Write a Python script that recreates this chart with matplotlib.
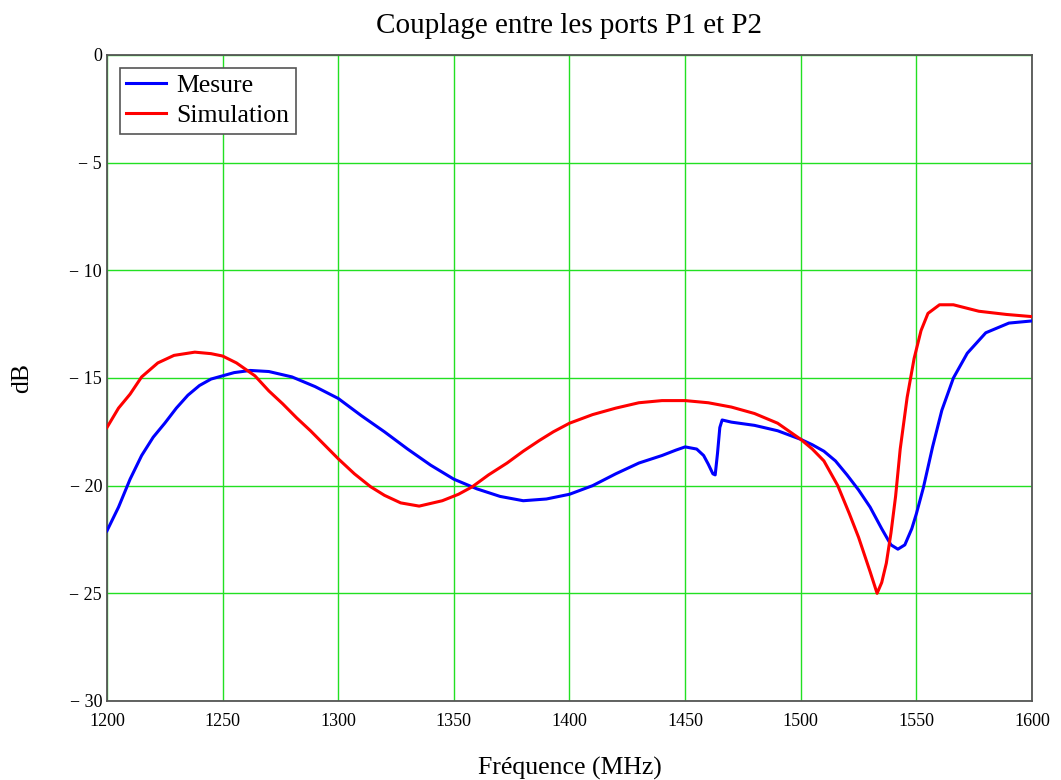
import matplotlib
matplotlib.use('Agg')
import matplotlib.pyplot as plt

plt.rcParams['font.family'] = ['Liberation Serif', 'DejaVu Serif']

# Mesure (blue)
f_mes = [1200, 1205, 1210, 1215, 1220, 1225, 1230, 1235, 1240, 1245, 1250, 1255,
         1262, 1270, 1280, 1290, 1300, 1310, 1320, 1330, 1340, 1350, 1360, 1370,
         1380, 1390, 1400, 1410, 1420, 1430, 1440, 1446, 1450, 1455, 1458, 1460,
         1462, 1463, 1464, 1465, 1466, 1470, 1480, 1490, 1500, 1505, 1510, 1515,
         1520, 1525, 1530, 1535, 1539, 1542, 1545, 1548, 1550, 1553, 1557, 1561,
         1566, 1572, 1580, 1590, 1600]
db_mes = [-22.1, -21.0, -19.7, -18.6, -17.75, -17.1, -16.4, -15.8, -15.35, -15.05,
          -14.9, -14.75, -14.65, -14.7, -14.95, -15.4, -15.95, -16.75, -17.5, -18.3,
          -19.05, -19.7, -20.15, -20.5, -20.7, -20.62, -20.4, -20.0, -19.45, -18.95,
          -18.6, -18.35, -18.2, -18.3, -18.6, -19.0, -19.45, -19.5, -18.5, -17.3,
          -16.95, -17.05, -17.2, -17.45, -17.85, -18.1, -18.4, -18.85, -19.5, -20.2,
          -21.0, -22.0, -22.75, -22.95, -22.75, -22.0, -21.3, -20.1, -18.2, -16.5,
          -15.0, -13.85, -12.9, -12.45, -12.35]

# Simulation (red)
f_sim = [1200, 1205, 1210, 1215, 1222, 1229, 1238, 1245, 1250, 1256, 1264, 1270,
         1276, 1282, 1288, 1294, 1300, 1307, 1314, 1320, 1327, 1335, 1345, 1352,
         1358, 1365, 1373, 1380, 1387, 1393, 1400, 1410, 1420, 1430, 1440, 1450,
         1460, 1470, 1480, 1490, 1500, 1505, 1510, 1516, 1521, 1525, 1530, 1533,
         1535, 1537, 1539, 1541, 1543, 1546, 1549, 1552, 1555, 1560, 1566, 1577,
         1589, 1600]
db_sim = [-17.3, -16.4, -15.75, -14.95, -14.3, -13.95, -13.8, -13.87, -13.98, -14.3,
          -14.9, -15.6, -16.2, -16.85, -17.45, -18.1, -18.75, -19.45, -20.05, -20.45,
          -20.8, -20.95, -20.7, -20.4, -20.05, -19.5, -18.95, -18.4, -17.9, -17.5,
          -17.1, -16.7, -16.4, -16.15, -16.05, -16.05, -16.15, -16.35, -16.65, -17.1,
          -17.85, -18.3, -18.85, -20.0, -21.3, -22.4, -24.0, -25.0, -24.5, -23.6,
          -22.2, -20.5, -18.3, -15.9, -14.1, -12.8, -12.0, -11.6, -11.6, -11.9,
          -12.05, -12.15]

x_ticks = [1200, 1250, 1300, 1350, 1400, 1450, 1500, 1550, 1600]
y_ticks = [0, -5, -10, -15, -20, -25, -30]
y_labels = ['0', '\u2212 5', '\u2212 10', '\u2212 15', '\u2212 20', '\u2212 25', '\u2212 30']

fig = plt.figure(figsize=(10.61, 7.8), dpi=100)
ax = fig.add_axes([0.1008, 0.1013, 0.8719, 0.8282])

ax.plot(f_mes, db_mes, color='#0000ff', lw=2.2, label='Mesure', zorder=3)
ax.plot(f_sim, db_sim, color='#ff0000', lw=2.2, label='Simulation', zorder=3)

ax.set_xlim(1200, 1600)
ax.set_ylim(-30, 0)
ax.set_xticks(x_ticks)
ax.set_yticks(y_ticks)
ax.set_yticklabels(y_labels)
ax.tick_params(length=0, labelsize=13)
ax.tick_params(axis='x', pad=9)
ax.tick_params(axis='y', pad=3.5)
ax.grid(True, color='#22e022', lw=1.0)
ax.set_axisbelow(True)
for s in ax.spines.values():
    s.set_color('#555555')
    s.set_linewidth(1.3)

ax.set_title('Couplage entre les ports P1 et P2', fontsize=21, pad=16)
ax.set_xlabel('Fréquence (MHz)', fontsize=18.5, labelpad=19)
ax.set_ylabel('dB', fontsize=18.5, labelpad=26)

leg = ax.legend(loc='upper left', fontsize=18.5, fancybox=False, framealpha=1,
                edgecolor='#555555', handlelength=1.55, borderaxespad=0.5,
                labelspacing=0.27, handletextpad=0.4, borderpad=0.25)
leg.get_frame().set_linewidth(1.2)

fig.savefig('out.png', dpi=100)
